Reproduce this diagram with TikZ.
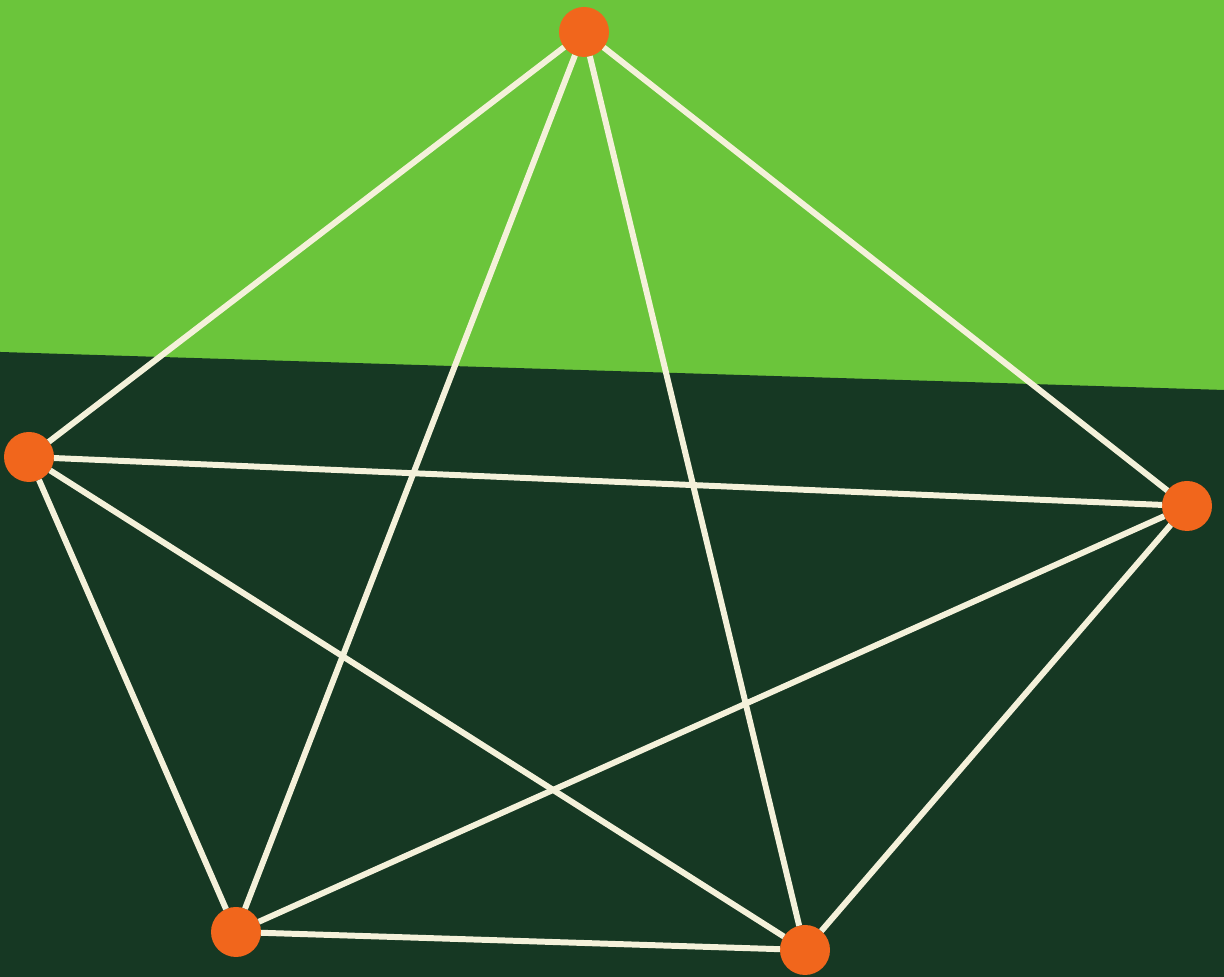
\documentclass[tikz,border=0pt]{standalone}
\usepackage{tikz}

\definecolor{lightgrass}{HTML}{6BC53B}
\definecolor{darkgrass}{HTML}{163823}
\definecolor{vertexorange}{HTML}{F1661C}
\definecolor{chalk}{HTML}{F4F1DA}

\begin{document}
\begin{tikzpicture}[line width=1.7pt]
  % draw background (light top, dark bottom)
  \useasboundingbox (0,0) rectangle (12.24,9.77);
  \fill[lightgrass] (0,0) rectangle (12.24,9.77);
  \fill[darkgrass] (0,0) -- (0,6.25) -- (12.24,5.87) -- (12.24,0) -- cycle;

  % vertices of the graph
  \tikzset{vertex/.style={circle, fill=vertexorange, inner sep=0pt, outer sep=0pt, minimum size=0.5cm}}
  \node[vertex] (top) at (5.84,9.45) {};
  \node[vertex] (left) at (0.29,5.20) {};
  \node[vertex] (right) at (11.87,4.71) {};
  \node[vertex] (botleft) at (2.36,0.45) {};
  \node[vertex] (botright) at (8.05,0.27) {};

  % edges: every pair joined
  \foreach \a/\b in {top/left, top/right, top/botleft, top/botright,
                     left/right, left/botleft, left/botright,
                     right/botleft, right/botright, botleft/botright}
    \draw[chalk] (\a) -- (\b);
\end{tikzpicture}
\end{document}
